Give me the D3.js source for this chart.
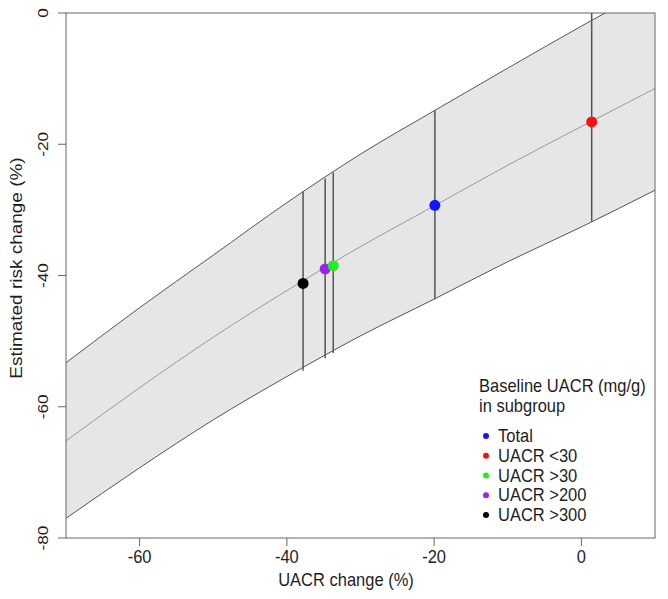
<!DOCTYPE html>
<html>
<head>
<meta charset="utf-8">
<script src="https://cdn.jsdelivr.net/npm/d3@7"></script>
<style>
  body { margin: 0; background: #fff; }
  text { font-family: "Liberation Sans", Arial, sans-serif; fill: #1e1e1e; }
</style>
</head>
<body>
<svg id="chart" width="668" height="599"></svg>
<script>
// UACR change (%) grid for the fitted curve and its confidence band
var uacrGrid = [-70, -60, -50, -40, -30, -20, -10, 0, 10];
var riskMid = [-65.2, -57.1, -49.4, -42.3, -35.6, -29.4, -23.2, -17.3, -11.5];
var riskUpper = [-53.3, -44.9, -36.9, -28.9, -21.5, -14.9, -8.4, -2.0, 4.2];
var riskLower = [-77.0, -69.3, -62.0, -55.4, -49.2, -43.6, -37.9, -32.6, -27.0];

// subgroups
var groupNames = ["Total", "UACR <30", "UACR >30", "UACR >200", "UACR >300"];
var groupColors = ["#1414ff", "#ff1010", "#22ee22", "#a020f0", "#000000"];
var groupUacr = [-19.9, 1.4, -33.7, -34.8, -37.8];
var groupRisk = [-29.3, -16.6, -38.5, -39.0, -41.2];
var groupLow = [-43.6, -31.8, -51.8, -52.6, -54.5];
var groupHigh = [-14.8, 0, -24.3, -25.2, -27.2];

var xTicks = [-60, -40, -20, 0];
var yTicks = [0, -20, -40, -60, -80];

function drawChart() {
  var svg = d3.select("#chart");
  var pLeft = 66, pRight = 655, pTop = 13, pBottom = 538;
  var stretch = 1.15; // glyphs in the picture are taller than wide

  var x = d3.scaleLinear().domain([-70, 10]).range([pLeft, pRight]);
  var y = d3.scaleLinear().domain([-80, 0]).range([pBottom, pTop]);

  svg.append("clipPath").attr("id", "plotclip")
    .append("rect")
    .attr("x", pLeft).attr("y", pTop)
    .attr("width", pRight - pLeft).attr("height", pBottom - pTop);

  var plotG = svg.append("g").attr("clip-path", "url(#plotclip)");

  var band = uacrGrid.map(function(d, i) {
    return { x: d, mid: riskMid[i], hi: riskUpper[i], lo: riskLower[i] };
  });

  var area = d3.area()
    .x(function(d) { return x(d.x); })
    .y0(function(d) { return y(d.lo); })
    .y1(function(d) { return y(d.hi); })
    .curve(d3.curveMonotoneX);

  plotG.append("path")
    .datum(band)
    .attr("d", area)
    .style("fill", "#e6e6e6");

  function lineOf(key) {
    return d3.line()
      .x(function(d) { return x(d.x); })
      .y(function(d) { return y(d[key]); })
      .curve(d3.curveMonotoneX);
  }

  plotG.append("path").datum(band).attr("d", lineOf("hi"))
    .style("fill", "none").style("stroke", "#555").style("stroke-width", 1);
  plotG.append("path").datum(band).attr("d", lineOf("lo"))
    .style("fill", "none").style("stroke", "#555").style("stroke-width", 1);
  plotG.append("path").datum(band).attr("d", lineOf("mid"))
    .style("fill", "none").style("stroke", "#999").style("stroke-width", 1);

  var groups = groupNames.map(function(n, i) {
    return { name: n, color: groupColors[i], x: groupUacr[i], y: groupRisk[i],
             lo: groupLow[i], hi: groupHigh[i] };
  });

  plotG.selectAll(".ci")
    .data(groups)
    .enter()
    .append("line")
    .attr("class", "ci")
    .attr("x1", function(d) { return x(d.x); })
    .attr("x2", function(d) { return x(d.x); })
    .attr("y1", function(d) { return y(d.lo); })
    .attr("y2", function(d) { return y(d.hi); })
    .style("stroke", "#555")
    .style("stroke-width", 1.5);

  // purple goes under green, as in the original
  svg.selectAll(".pt")
    .data(groups.slice().reverse())
    .enter()
    .append("circle")
    .attr("class", "pt")
    .attr("cx", function(d) { return x(d.x); })
    .attr("cy", function(d) { return y(d.y); })
    .attr("r", 5.5)
    .style("fill", function(d) { return d.color; });

  // frame
  svg.append("rect")
    .attr("x", pLeft).attr("y", pTop)
    .attr("width", pRight - pLeft).attr("height", pBottom - pTop)
    .style("fill", "none").style("stroke", "#666").style("stroke-width", 1);

  // x axis
  var xAxisG = svg.append("g");
  xAxisG.selectAll("line")
    .data(xTicks).enter().append("line")
    .attr("x1", function(d) { return x(d); }).attr("x2", function(d) { return x(d); })
    .attr("y1", pBottom).attr("y2", pBottom + 8)
    .style("stroke", "#666");
  xAxisG.selectAll("text")
    .data(xTicks).enter().append("text")
    .attr("transform", function(d) {
      return "translate(" + x(d) + "," + (pBottom + 25) + ") scale(1," + stretch + ")";
    })
    .attr("text-anchor", "middle")
    .style("font-size", "16.5px")
    .text(function(d) { return d; });

  svg.append("text")
    .attr("transform", "translate(346,586) scale(1," + stretch + ")")
    .attr("text-anchor", "middle")
    .style("font-size", "16.5px")
    .text("UACR change (%)");

  // y axis
  var yAxisG = svg.append("g");
  yAxisG.selectAll("line")
    .data(yTicks).enter().append("line")
    .attr("x1", pLeft - 8).attr("x2", pLeft)
    .attr("y1", function(d) { return y(d); }).attr("y2", function(d) { return y(d); })
    .style("stroke", "#666");
  yAxisG.selectAll("text")
    .data(yTicks).enter().append("text")
    .attr("transform", function(d) {
      return "translate(48," + y(d) + ") rotate(-90) scale(" + stretch + ",1)";
    })
    .attr("text-anchor", "middle")
    .style("font-size", "15px")
    .text(function(d) { return d; });

  svg.append("text")
    .attr("transform", "translate(22,268) rotate(-90) scale(" + stretch + ",1)")
    .attr("text-anchor", "middle")
    .style("font-size", "16.5px")
    .text("Estimated risk change (%)");

  // legend
  var legX = 479;
  svg.append("text")
    .attr("transform", "translate(" + legX + ",392) scale(1," + stretch + ")")
    .style("font-size", "16.5px")
    .text("Baseline UACR (mg/g)");
  svg.append("text")
    .attr("transform", "translate(" + legX + ",412) scale(1," + stretch + ")")
    .style("font-size", "16.5px")
    .text("in subgroup");

  var legY = d3.scaleLinear().domain([0, 4]).range([436, 515]);
  var legG = svg.selectAll(".leg")
    .data(groups).enter().append("g")
    .attr("class", "leg")
    .attr("transform", function(d, i) { return "translate(" + legX + "," + legY(i) + ")"; });
  legG.append("circle")
    .attr("cx", 7).attr("cy", 0).attr("r", 3)
    .style("fill", function(d) { return d.color; });
  legG.append("text")
    .attr("transform", "translate(19,6) scale(1," + stretch + ")")
    .style("font-size", "16.5px")
    .text(function(d) { return d.name; });
}

drawChart();
</script>
</body>
</html>
